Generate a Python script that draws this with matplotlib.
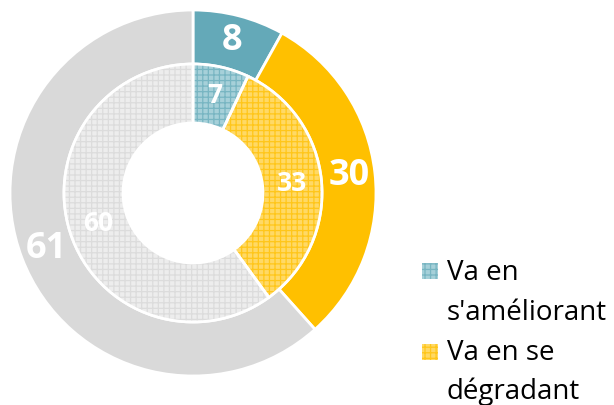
import math
import matplotlib.pyplot as plt
from matplotlib.patches import Rectangle

plt.rcParams['hatch.linewidth'] = 0.9
plt.rcParams['font.family'] = ['Open Sans', 'DejaVu Sans']

categories = ["Va en s'améliorant", "Va en se dégradant", "Autre"]
outer_values = [8, 30, 61]
inner_values = [7, 33, 60]
legend_labels = ["Va en\ns'améliorant", "Va en se\ndégradant"]

W, H = 614, 405
fig = plt.figure(figsize=(W / 100, H / 100), dpi=100)
ax = fig.add_axes([0, 0, 1, 1])

cx, cy = 193, 212
R_out, R_mid, R_in = 183, 129, 70

outer_colors = ['#64A9B8', '#FFC000', '#D9D9D9']
inner_face = ['#A6D0D9', '#FFD966', '#EDEDED']
inner_hatch = ['#78B5C2', '#FFC61A', '#DCDCDC']

wo, _ = ax.pie(outer_values, radius=R_out, center=(cx, cy), startangle=90,
               counterclock=False, colors=outer_colors,
               wedgeprops=dict(width=R_out - R_mid, edgecolor='white', linewidth=2))

wi, _ = ax.pie(inner_values, radius=R_mid, center=(cx, cy), startangle=90,
               counterclock=False, colors=inner_face, hatch=['+++', '+++', '+++'],
               wedgeprops=dict(width=R_mid - R_in, linewidth=0))
for w, hc in zip(wi, inner_hatch):
    w.set_edgecolor(hc)
    w.set_linewidth(0)

ax.pie(inner_values, radius=R_mid, center=(cx, cy), startangle=90,
       counterclock=False, colors=['none'] * 3,
       wedgeprops=dict(width=R_mid - R_in, edgecolor='white', linewidth=2, fill=False))


def label_ring(wedges, values, r, size):
    for w, v in zip(wedges, values):
        a = math.radians((w.theta1 + w.theta2) / 2)
        ax.text(cx + r * math.cos(a), cy + r * math.sin(a), str(v), color='white',
                fontsize=size, fontweight='bold', ha='center', va='center')


label_ring(wo, outer_values, (R_out + R_mid) / 2 + 1, 26)
label_ring(wi, inner_values, (R_mid + R_in) / 2, 19)

# legend (manual, each line on its own baseline)
sq_tops = [263, 344]
baselines = [[280, 320], [360, 399]]
for i, lab in enumerate(legend_labels):
    ax.add_patch(Rectangle((422, H - sq_tops[i] - 16), 16, 16, facecolor=inner_face[i],
                           edgecolor=inner_hatch[i], hatch='+++', linewidth=0))
    for line, b in zip(lab.split('\n'), baselines[i]):
        ax.text(447, H - b, line, fontsize=20, va='baseline', ha='left', color='black')

ax.set_xlim(0, W)
ax.set_ylim(0, H)
ax.set_aspect('auto')
ax.axis('off')
fig.savefig('out.png', dpi=100)
